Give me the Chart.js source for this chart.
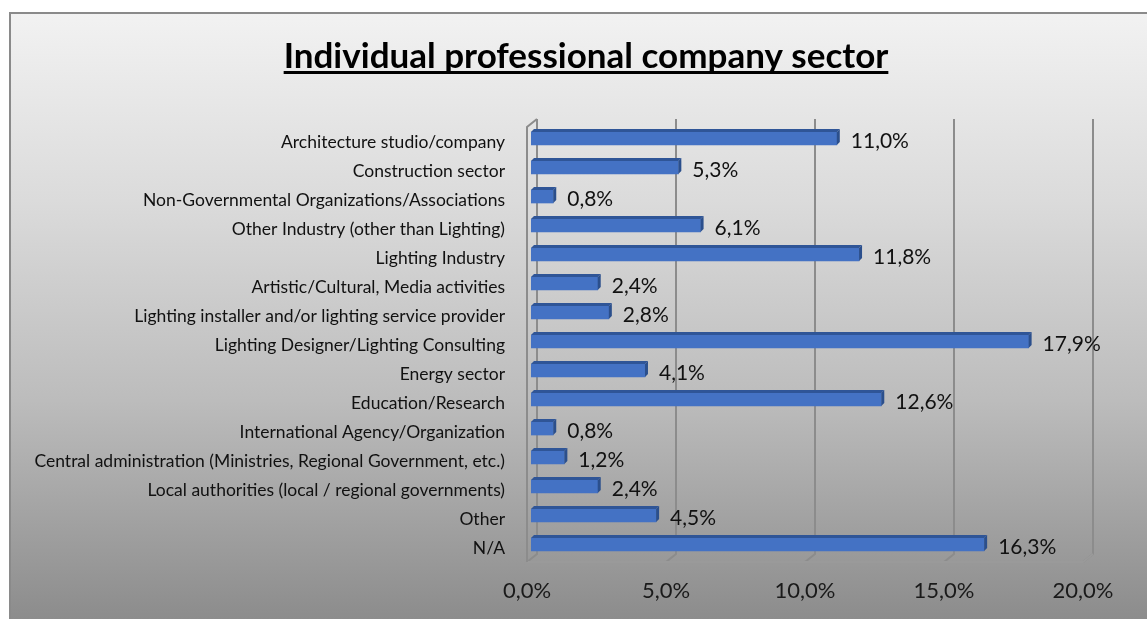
<!DOCTYPE html>
<html>
<head>
<meta charset="utf-8">
<script src="https://cdn.jsdelivr.net/npm/chart.js@4.4.1/dist/chart.umd.min.js"></script>
<style>
  html, body { margin: 0; padding: 0; background: #fff; }
  canvas { display: block; }
</style>
</head>
<body>
<canvas id="sectorChart" width="1147" height="619"></canvas>
<script>
const chartTitle = 'Individual professional company sector';

const sectors = [
    'Architecture studio/company',
    'Construction sector',
    'Non-Governmental Organizations/Associations',
    'Other Industry (other than Lighting)',
    'Lighting Industry',
    'Artistic/Cultural, Media activities',
    'Lighting installer and/or lighting service provider',
    'Lighting Designer/Lighting Consulting',
    'Energy sector',
    'Education/Research',
    'International Agency/Organization',
    'Central administration (Ministries, Regional Government, etc.)',
    'Local authorities (local / regional governments)',
    'Other',
    'N/A'
];

// share of respondents, percent
const shares = [11.0, 5.3, 0.8, 6.1, 11.8, 2.4, 2.8, 17.9, 4.1, 12.6, 0.8, 1.2, 2.4, 4.5, 16.3];

const axisTicks = [0, 5, 10, 15, 20];

const fontFamily = 'Lato, "Open Sans", sans-serif';
const fmtPct = v => v.toFixed(1).replace('.', ',') + '%';

// back wall / floor offsets for the fake 3D look
const BACK = { dx: 6, dy: -5 };
const FRONT = { dx: -4, dy: 3 };

const backdrop = {
    id: 'backdrop',
    beforeDraw(chart) {
        const { ctx, width, height } = chart;
        ctx.save();
        ctx.fillStyle = '#ffffff';
        ctx.fillRect(0, 0, width, height);
        const grad = ctx.createLinearGradient(0, 12, 0, height);
        grad.addColorStop(0, '#f2f2f2');
        grad.addColorStop(0.31, '#dbdbdb');
        grad.addColorStop(0.64, '#bcbcbc');
        grad.addColorStop(1, '#8c8c8c');
        ctx.fillStyle = grad;
        ctx.fillRect(9, 12, width - 9, height - 12);
        ctx.strokeStyle = '#8a8a8a';
        ctx.lineWidth = 2;
        ctx.beginPath();
        ctx.moveTo(10, height);
        ctx.lineTo(10, 13);
        ctx.lineTo(width, 13);
        ctx.stroke();

        // title, underlined
        ctx.font = 'bold 35px ' + fontFamily;
        ctx.fillStyle = '#000';
        ctx.textAlign = 'center';
        ctx.textBaseline = 'alphabetic';
        const cx = 586;
        ctx.fillText(chartTitle, cx, 68);
        const w = ctx.measureText(chartTitle).width;
        ctx.fillRect(cx - w / 2, 71, w, 3);
        ctx.restore();
    },
    beforeDatasetsDraw(chart) {
        const { ctx, chartArea } = chart;
        const x = chart.scales.x;
        const topBack = chartArea.top + BACK.dy;
        const botBack = chartArea.bottom + BACK.dy;
        const botFront = chartArea.bottom + FRONT.dy;
        ctx.save();
        ctx.lineWidth = 2;
        ctx.strokeStyle = '#8c8c8c';
        axisTicks.forEach(v => {
            const px = x.getPixelForValue(v);
            // wall line
            ctx.beginPath();
            ctx.moveTo(px + BACK.dx, topBack);
            ctx.lineTo(px + BACK.dx, botBack);
            ctx.lineTo(px + FRONT.dx, botFront);
            ctx.stroke();
        });
        // floor front edge
        const x0 = x.getPixelForValue(axisTicks[0]);
        const x1 = x.getPixelForValue(axisTicks[axisTicks.length - 1]);
        ctx.strokeStyle = '#9a9a9a';
        ctx.beginPath();
        ctx.moveTo(x0 + FRONT.dx, botFront);
        ctx.lineTo(x1 + FRONT.dx, botFront);
        ctx.lineTo(x1 + BACK.dx, botBack);
        ctx.stroke();
        // side wall
        ctx.strokeStyle = '#8c8c8c';
        ctx.beginPath();
        ctx.moveTo(x0 + FRONT.dx, botFront);
        ctx.lineTo(x0 + FRONT.dx, chartArea.top + FRONT.dy);
        ctx.lineTo(x0 + BACK.dx, topBack);
        ctx.stroke();
        ctx.restore();
    },
    afterDatasetsDraw(chart) {
        const { ctx } = chart;
        const meta = chart.getDatasetMeta(0);
        const d = 3;
        ctx.save();
        meta.data.forEach((bar, i) => {
            const { x, y, base, height } = bar.getProps(['x', 'y', 'base', 'height'], true);
            const top = y - height / 2;
            const bottom = y + height / 2;
            // top face
            ctx.fillStyle = '#2f5597';
            ctx.beginPath();
            ctx.moveTo(base, top);
            ctx.lineTo(x, top);
            ctx.lineTo(x + d, top - d);
            ctx.lineTo(base + d, top - d);
            ctx.closePath();
            ctx.fill();
            // end face
            ctx.fillStyle = '#2b4f8c';
            ctx.beginPath();
            ctx.moveTo(x, top);
            ctx.lineTo(x + d, top - d);
            ctx.lineTo(x + d, bottom - d);
            ctx.lineTo(x, bottom);
            ctx.closePath();
            ctx.fill();
            // value label
            ctx.font = '21px ' + fontFamily;
            ctx.fillStyle = '#111';
            ctx.textAlign = 'left';
            ctx.textBaseline = 'middle';
            ctx.fillText(fmtPct(shares[i]), x + 14, y + 3);
        });
        ctx.restore();
    }
};

new Chart(document.getElementById('sectorChart'), {
    type: 'bar',
    data: {
        labels: sectors,
        datasets: [{
            data: shares,
            backgroundColor: '#4472c4',
            borderWidth: 0,
            barThickness: 13
        }]
    },
    options: {
        indexAxis: 'y',
        responsive: false,
        animation: false,
        layout: { padding: { top: 124, right: 60, left: 0, bottom: 0 } },
        plugins: {
            legend: { display: false },
            tooltip: { enabled: false },
            title: { display: false }
        },
        scales: {
            x: {
                min: 0,
                max: 20,
                afterFit(scale) { scale.height = 60; },
                afterBuildTicks(scale) { scale.ticks = axisTicks.map(v => ({ value: v })); },
                grid: { display: false, drawTicks: false },
                border: { display: false },
                ticks: {
                    padding: 19,
                    labelOffset: -4,
                    color: '#1a1a1a',
                    font: { family: fontFamily, size: 22 },
                    callback: v => fmtPct(v)
                }
            },
            y: {
                afterFit(scale) { scale.width = 531; },
                grid: { display: false, drawTicks: false },
                border: { display: false },
                ticks: {
                    padding: 26,
                    labelOffset: 4,
                    color: '#111',
                    autoSkip: false,
                    font: { family: fontFamily, size: 17.5 }
                }
            }
        }
    },
    plugins: [backdrop]
});
</script>
</body>
</html>
